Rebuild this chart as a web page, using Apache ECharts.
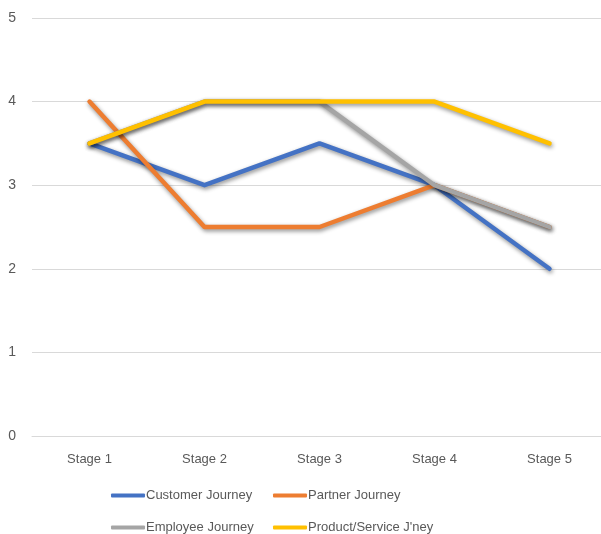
<!DOCTYPE html>
<html>
<head>
<meta charset="utf-8">
<script src="https://cdn.jsdelivr.net/npm/echarts@6/dist/echarts.min.js"></script>
<style>
html, body { margin: 0; padding: 0; background: #fff; }
#chart { width: 601px; height: 534px; }
</style>
</head>
<body>
<div id="chart"></div>
<script>
const stages = ['Stage 1', 'Stage 2', 'Stage 3', 'Stage 4', 'Stage 5']
const customer = [3.5, 3, 3.5, 3, 2]
const partner = [4, 2.5, 2.5, 3, 2.5]
const employee = [3.5, 4, 4, 3, 2.5]
const product = [3.5, 4, 4, 4, 3.5]

const names = ['Customer Journey', 'Partner Journey', 'Employee Journey', "Product/Service J'ney"]
const colors = ['#4472C4', '#ED7D31', '#A5A5A5', '#FFC000']
const values = [customer, partner, employee, product]

const chart = echarts.init(document.getElementById('chart'))

const font = 'Liberation Sans, Arial, sans-serif'
const legendPos = [[111, 489], [273, 489], [111, 521], [273, 521]]

const option = {
    backgroundColor: '#fff',
    animation: false,
    grid: { left: 32, width: 575, top: 18, bottom: 98, outerBoundsMode: 'none', containLabel: false },
    xAxis: {
        type: 'category',
        data: stages,
        boundaryGap: true,
        axisLine: { lineStyle: { color: '#d9d9d9', width: 1 } },
        axisTick: { show: false },
        axisLabel: { color: '#595959', fontSize: 13, fontFamily: font, margin: 17 }
    },
    yAxis: {
        type: 'value',
        min: 0,
        max: 5,
        interval: 1,
        axisLine: { show: false },
        axisTick: { show: false },
        splitLine: { lineStyle: { color: '#d9d9d9', width: 1 } },
        axisLabel: { color: '#595959', fontSize: 14, fontFamily: font, margin: 16 }
    },
    legend: names.map((n, i) => ({
        data: [n],
        left: legendPos[i][0],
        top: legendPos[i][1],
        icon: 'roundRect',
        itemWidth: 34,
        itemHeight: 4,
        padding: 0,
        textStyle: { color: '#595959', fontSize: 13, fontFamily: font, padding: [0, 0, 0, -4] }
    })),
    series: names.map((n, i) => ({
        name: n,
        type: 'line',
        data: values[i],
        symbol: 'none',
        color: colors[i],
        lineStyle: {
            width: 4.5,
            color: colors[i],
            cap: 'round',
            join: 'round',
            shadowColor: 'rgba(0,0,0,0.45)',
            shadowBlur: 4,
            shadowOffsetX: 1,
            shadowOffsetY: 2
        }
    }))
}

chart.setOption(option)
</script>
</body>
</html>
